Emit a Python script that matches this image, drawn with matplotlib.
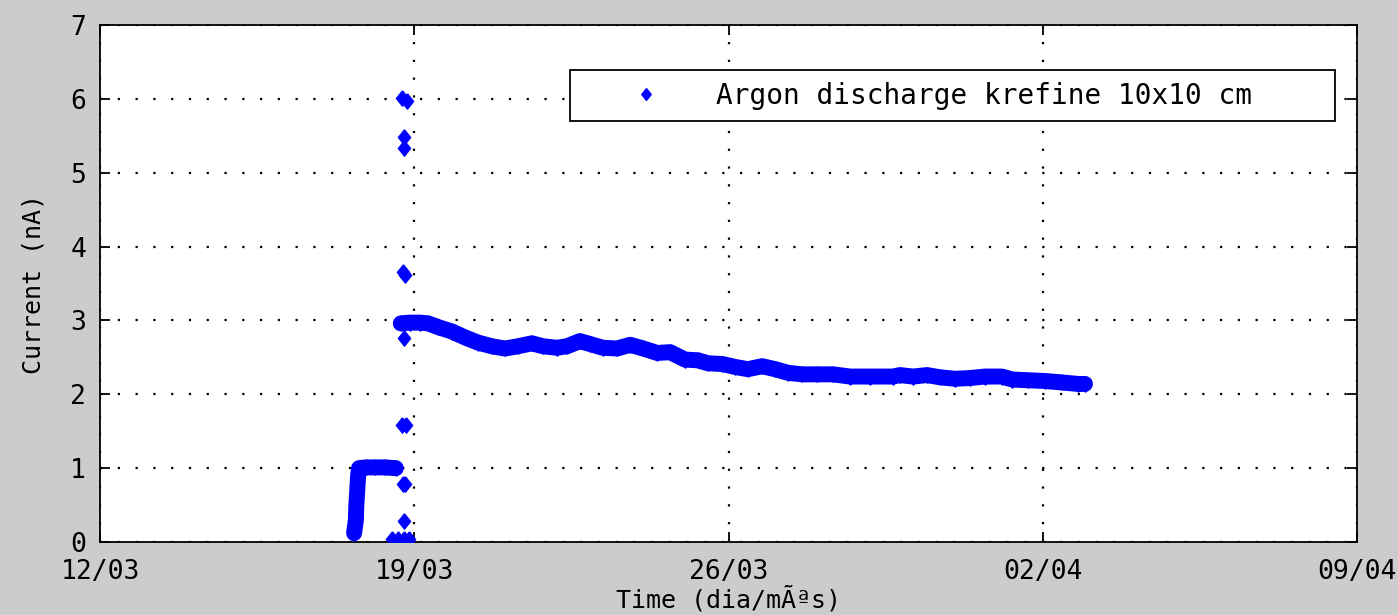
import matplotlib
matplotlib.use('Agg')
import matplotlib.pyplot as plt
import matplotlib.dates as mdates
from datetime import datetime, timedelta

# ---- data (day offsets from 12/03) ----
start_date = datetime(2011, 3, 12)
tick_days = [0, 7, 14, 21, 28]
y_ticks = [0, 1, 2, 3, 4, 5, 6, 7]

rise_days = [5.66, 5.70, 5.71, 5.73, 5.75, 5.77, 5.93, 6.13, 6.35, 6.59]
rise_vals = [0.12, 0.30, 0.50, 0.70, 0.90, 1.00, 1.01, 1.01, 1.01, 1.00]

zero_days = [6.50, 6.64, 6.77, 6.88]
zero_vals = [0.04, 0.04, 0.04, 0.04]

spike_days = [6.72, 6.84, 6.77, 6.77, 6.74, 6.80, 6.77, 6.72, 6.82, 6.75, 6.79, 6.77]
spike_vals = [6.01, 5.97, 5.48, 5.33, 3.66, 3.61, 2.76, 1.58, 1.58, 0.78, 0.78, 0.28]

main_days = [6.70, 6.90, 7.13, 7.31, 7.53, 7.84, 8.13, 8.42, 8.73, 9.02,
             9.31, 9.62, 9.87, 10.18, 10.40, 10.69, 10.92, 11.20, 11.52, 11.81,
             12.10, 12.41, 12.70, 13.03, 13.32, 13.54, 13.86, 14.15, 14.43, 14.75,
             15.04, 15.33, 15.64, 15.97, 16.33, 16.71, 17.15, 17.66, 17.82, 18.11,
             18.42, 18.71, 19.05, 19.38, 19.71, 20.09, 20.32, 20.67, 21.05, 21.43,
             21.79, 21.94]
main_vals = [2.96, 2.97, 2.97, 2.96, 2.91, 2.85, 2.77, 2.70, 2.65, 2.62,
             2.65, 2.69, 2.65, 2.63, 2.65, 2.72, 2.68, 2.63, 2.62, 2.67,
             2.62, 2.56, 2.57, 2.47, 2.46, 2.42, 2.41, 2.37, 2.34, 2.38,
             2.34, 2.29, 2.27, 2.27, 2.27, 2.24, 2.24, 2.24, 2.26, 2.24,
             2.26, 2.23, 2.21, 2.22, 2.24, 2.24, 2.20, 2.19, 2.18, 2.16,
             2.14, 2.14]

legend_label = 'Argon discharge krefine 10x10 cm'
x_label = 'Time (dia/mÃªs)'
y_label = 'Current (nA)'


def to_dates(days):
    return [start_date + timedelta(days=d) for d in days]


blue = '#0000ff'
diamond = [(0, 1), (0.8, 0), (0, -1), (-0.8, 0), (0, 1)]
ms = 11

fig = plt.figure(figsize=(13.98, 6.15), dpi=100, facecolor='#cccccc')
ax = fig.add_axes([100 / 1398, 73 / 615, 1257 / 1398, 517 / 615])
ax.set_facecolor('white')

# dense band segments
for d, v in [(rise_days, rise_vals), (main_days, main_vals)]:
    ax.plot(to_dates(d), v, '-', color=blue, lw=11.5, solid_joinstyle='round',
            solid_capstyle='round', zorder=3)
    ax.plot(to_dates(d), v, linestyle='none', marker=diamond, ms=ms, color=blue, zorder=3)

ax.plot(to_dates(zero_days), zero_vals, linestyle='none', marker=diamond, ms=ms,
        color=blue, zorder=3)
ax.plot(to_dates(spike_days), spike_vals, linestyle='none', marker=diamond, ms=ms,
        color=blue, zorder=3)

# legend proxy
h, = ax.plot([], [], linestyle='none', marker=diamond, ms=8.5, color=blue, label=legend_label)

ax.set_xlim(start_date, start_date + timedelta(days=tick_days[-1]))
ax.set_ylim(0, 7)
ax.set_xticks(to_dates(tick_days))
ax.xaxis.set_major_formatter(mdates.DateFormatter('%d/%m'))
ax.set_yticks(y_ticks)

ax.set_axisbelow(True)
ax.grid(True, color='black', linestyle=(0, (1, 7)), linewidth=1.6)

for s in ax.spines.values():
    s.set_linewidth(1.3)
    s.set_color('black')

ax.tick_params(direction='in', length=7, width=1.3, top=True, right=True,
               labelsize=19, colors='black')
ax.tick_params(axis='y', pad=10)
ax.tick_params(axis='x', pad=12)
for lab in ax.get_xticklabels() + ax.get_yticklabels():
    lab.set_family('DejaVu Sans Mono')

ax.set_xlabel(x_label, fontsize=18, family='DejaVu Sans Mono', labelpad=1)
ax.set_ylabel(y_label, fontsize=18, family='DejaVu Sans Mono', labelpad=18)

leg = ax.legend(handles=[h], loc='upper left',
                bbox_to_anchor=((570 - 100) / 1257, (542 - 70) / 517,
                                765 / 1257, 0.0),
                mode='expand', borderaxespad=0, frameon=True, fancybox=False,
                edgecolor='black', framealpha=1,
                prop={'family': 'DejaVu Sans Mono', 'size': 20},
                borderpad=0.42, handlelength=4.6, handletextpad=0.25)
leg.get_frame().set_linewidth(1.3)

fig.savefig('out.png', dpi=100, facecolor=fig.get_facecolor())
